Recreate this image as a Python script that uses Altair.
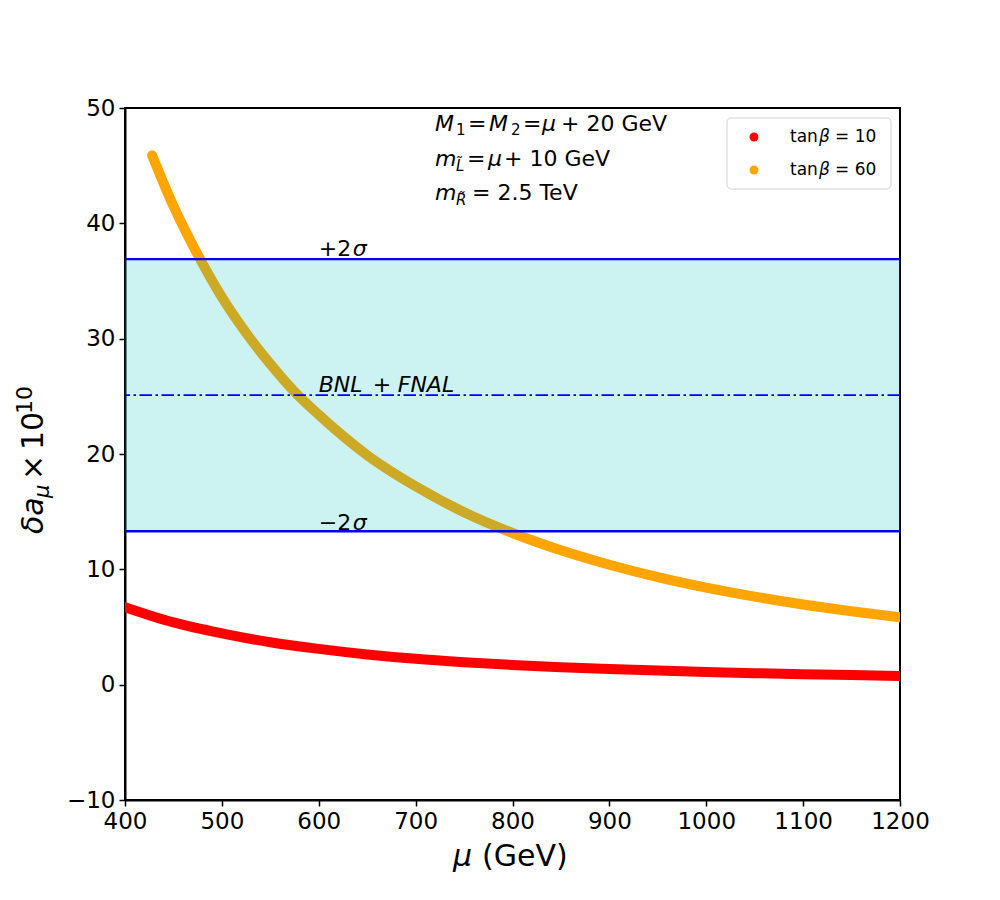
import altair as alt
import pandas as pd

# ---- data ----
mu_red = [400, 450, 500, 550, 600, 650, 700, 750, 800, 850, 900, 950, 1000, 1050, 1100, 1150, 1200]
da_red = [6.72, 5.40, 4.45, 3.68, 3.10, 2.62, 2.24, 1.95, 1.71, 1.52, 1.36, 1.22, 1.10, 1.00, 0.91, 0.83, 0.76]

mu_org = [428, 450, 475, 500, 525, 550, 575, 600, 650, 700, 750, 800, 850, 900, 950, 1000, 1050, 1100, 1150, 1200]
da_org = [45.9, 41.5, 37.3, 33.6, 30.5, 27.8, 25.4, 23.4, 19.9, 17.2, 14.95, 13.15, 11.65, 10.4, 9.32, 8.41, 7.63, 6.95, 6.36, 5.84]

series_nums = ["10", "60"]
series_colors = ["#ff0000", "#ffa500"]
band_lo, band_mid, band_hi = 13.3, 25.1, 36.9
x_ticks = [400, 500, 600, 700, 800, 900, 1000, 1100, 1200]
y_ticks = [-10, 0, 10, 20, 30, 40, 50]

FONT = "DejaVu Sans"
xs = alt.Scale(domain=[400, 1200], nice=False, zero=False, padding=0)
ys = alt.Scale(domain=[-10, 50], nice=False, zero=False, padding=0)
xaxis = alt.Axis(values=x_ticks, title=None, grid=False, format="d", labelFlush=False, labelOverlap=False)
yaxis = alt.Axis(values=y_ticks, title=None, grid=False, format="d", labelFlush=False, labelOverlap=False)

def X(f):
    return alt.X(f, type="quantitative", scale=xs, axis=xaxis)

def Y(f):
    return alt.Y(f, type="quantitative", scale=ys, axis=yaxis)

dummy = pd.DataFrame({"d": [0]})

red_df = pd.DataFrame({"mu": mu_red, "da": da_red})
org_df = pd.DataFrame({"mu": mu_org, "da": da_org})

orange = alt.Chart(org_df).mark_line(
    color="#ffa500", strokeWidth=10, strokeCap="round", interpolate="monotone", clip=True
).encode(x=X("mu"), y=Y("da"))

red = alt.Chart(red_df).mark_line(
    color="#ff0000", strokeWidth=10, strokeCap="round", interpolate="monotone", clip=True
).encode(x=X("mu"), y=Y("da"))

band_df = pd.DataFrame({"x1": [400], "x2": [1200], "y1": [band_lo], "y2": [band_hi]})
band = alt.Chart(band_df).mark_rect(color="#00bfbf", opacity=0.2).encode(
    x=X("x1"), x2="x2", y=Y("y1"), y2="y2"
)

sig_df = pd.DataFrame({"y": [band_lo, band_hi]})
sig_rules = alt.Chart(sig_df).mark_rule(color="#0000ff", strokeWidth=2.4).encode(y=Y("y"))
mid_df = pd.DataFrame({"y": [band_mid]})
mid_rule = alt.Chart(mid_df).mark_rule(
    color="#0000ff", strokeWidth=1.8, strokeDash=[12.5, 3.5, 2.5, 3.5]
).encode(y=Y("y"))

layers = [orange, red, band, sig_rules, mid_rule]

def dtext(text, xv, yv, dx=0, dy=0, size=22, italic=False):
    df = pd.DataFrame({"x": [xv], "y": [yv]})
    kw = dict(text=text, font=FONT, fontSize=size, align="left", baseline="alphabetic",
              color="black", dx=dx, dy=dy)
    if italic:
        kw["fontStyle"] = "italic"
    return alt.Chart(df).mark_text(**kw).encode(x=X("x"), y=Y("y"))

def ptext(text, px, py, size=20, italic=False, angle=0, align="left", color="black"):
    kw = dict(text=text, font=FONT, fontSize=size, align=align, baseline="alphabetic",
              color=color)
    if angle:
        kw["angle"] = angle
    if italic:
        kw["fontStyle"] = "italic"
    return alt.Chart(dummy).mark_text(**kw).encode(x=alt.value(px), y=alt.value(py))

# parameter annotations
ax0 = 720
layers += [
    dtext("M", ax0, 48, 0, italic=True),
    dtext("1", ax0, 48, 21, 4, size=15),
    dtext("=", ax0, 48, 33),
    dtext("M", ax0, 48, 54, italic=True),
    dtext("2", ax0, 48, 76, 4, size=15),
    dtext("=", ax0, 48, 88),
    dtext("μ", ax0, 48, 107, italic=True),
    dtext("+ 20 GeV", ax0, 48, 126),

    dtext("m", ax0, 45, 0, italic=True),
    dtext("L\u0303", ax0, 45, 21, 5, size=15, italic=True),
    dtext("=", ax0, 45, 32),
    dtext("μ", ax0, 45, 53, italic=True),
    dtext("+ 10 GeV", ax0, 45, 69),

    dtext("m", ax0, 42, 0, italic=True),
    dtext("R\u0303", ax0, 42, 21, 5, size=15, italic=True),
    dtext("= 2.5 TeV", ax0, 42, 37),
]

# band labels
layers += [
    dtext("+2", 600, 37.2, 0),
    dtext("σ", 600, 37.2, 34, italic=True),
    dtext("BNL", 600, 25.4, 0, italic=True),
    dtext("+", 600, 25.4, 54),
    dtext("FNAL", 600, 25.4, 79, italic=True),
    dtext("−2", 600, 13.45, 0),
    dtext("σ", 600, 13.45, 34, italic=True),
]

# legend (drawn manually, matplotlib style)
legend_box = alt.Chart(dummy).mark_rect(
    fill="white", fillOpacity=0.8, stroke="#d0d0d0", strokeWidth=1, cornerRadius=4
).encode(x=alt.value(602), x2=alt.value(766), y=alt.value(10), y2=alt.value(81))
leg_df = pd.DataFrame({"py": [29, 62], "c": series_colors})
legend_dots = alt.Chart(leg_df).mark_circle(size=80, opacity=1).encode(
    x=alt.value(629), y=alt.Y("py:Q", scale=None, axis=None),
    color=alt.Color("c:N", scale=None, legend=None)
)
layers += [legend_box, legend_dots]
for base, num in zip([34, 67], series_nums):
    layers += [
        ptext("tan", 665, base, size=17),
        ptext("β", 694, base, size=17, italic=True),
        ptext("= " + num, 710, base, size=17),
    ]

# axis titles
layers += [
    ptext("μ", 328, 758, size=30, italic=True),
    ptext("(GeV)", 357, 758, size=30),
    ptext("δa", -82, 426, size=30, italic=True, angle=270),
    ptext("μ", -76, 390, size=21, italic=True, angle=270),
    ptext("×", -82, 372, size=30, angle=270),
    ptext("10", -82, 342, size=30, angle=270),
    ptext("10", -93, 306, size=22, angle=270),
]

chart = alt.layer(*layers).properties(
    width=775, height=692,
    autosize=alt.AutoSizeParams(type="none"),
    padding={"left": 117, "top": 100, "right": 90, "bottom": 90},
    background="white",
).configure_view(
    stroke="black", strokeWidth=2
).configure_axis(
    domainColor="black", domainWidth=2, tickColor="black", tickWidth=1.5, tickSize=6,
    labelFont=FONT, labelFontSize=23, labelColor="black", labelPadding=4,
)

chart.save("out.html", embed_options={"renderer": "svg", "actions": False})
